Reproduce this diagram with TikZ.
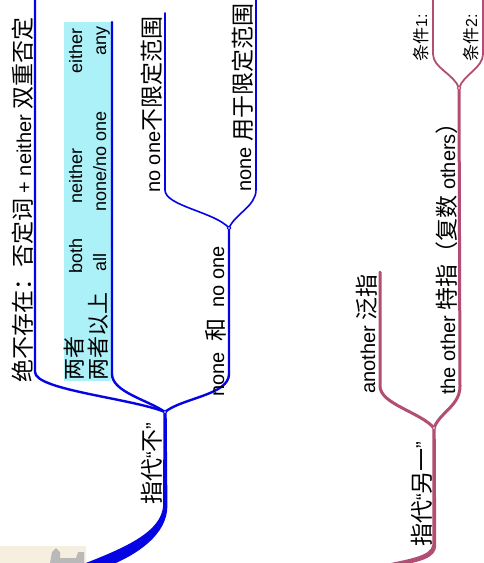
\documentclass[tikz,border=0pt]{standalone}
\usepackage{fontspec}
\setmainfont{Liberation Sans}
\newfontfamily\cjkf{Noto Sans CJK SC}
\newcommand\zhtxt[2][23]{{\cjkf\fontsize{#1}{#1}\selectfont #2}}
\definecolor{mmblue}{RGB}{5,5,228}
\definecolor{mmpink}{RGB}{178,78,115}
\definecolor{mmcyan}{RGB}{172,240,248}
\definecolor{mmbeige}{RGB}{246,238,222}
\begin{document}
\begin{tikzpicture}[x=1pt,y=-1pt,
  lbl/.style={rotate=90,anchor=base west,inner sep=0pt,font=\fontsize{20}{24}\selectfont},
  boxlbl/.style={lbl,font=\fontsize{18}{21}\selectfont},
  smalllbl/.style={lbl,font=\fontsize{16}{19}\selectfont},
  bluemain/.style={draw=mmblue,line width=2.4pt,line cap=round},
  bluesub/.style={draw=mmblue,line width=1.6pt,line cap=round},
  pinkmain/.style={draw=mmpink,line width=3pt,line cap=round},
  pinksub/.style={draw=mmpink,line width=1.8pt,line cap=round},
  junc/.style={circle,fill=white,inner sep=0pt,minimum size=3.5pt,draw,line width=0.8pt}]
\useasboundingbox (0,0) rectangle (484,563);
\clip (0,0) rectangle (484,563);
\fill[white] (0,0) rectangle (484,563);

% coordinates
\coordinate (J1) at (165,412);
\coordinate (J2) at (229,228);
\coordinate (J3) at (434,428);
\coordinate (J4) at (459,88);
\coordinate (Atop) at (35,-2);
\coordinate (Btop) at (112,22);
\coordinate (Ctop) at (165,13);
\coordinate (Dtop) at (256,-2);
\coordinate (Etop) at (380,272);
\coordinate (Ftop) at (433,-2);
\coordinate (Gtop) at (483,-2);

% cyan box
\fill[mmcyan] (64,22) rectangle (111,381);

% blue trunk
\fill[mmblue] (163.3,412) -- (163.2,505) .. controls (162,532) and (125,548) .. (78,566)
  -- (109,566) .. controls (136,555) and (168,535) .. (167.4,505) -- (166.7,412) -- cycle;

% blue branches
\draw[bluemain] (Atop) -- (35,372) .. controls (35,390) and (130,398) .. (J1);
\draw[bluemain] (Btop) -- (112,374) .. controls (112,392) and (148,400) .. (J1);
\draw[bluemain] (J2) -- (229,374) .. controls (229,395) and (182,398) .. (J1);
\draw[bluesub] (Ctop) -- (165,190) .. controls (165,206) and (215,212) .. (J2);
\draw[bluesub] (Dtop) -- (256,190) .. controls (256,206) and (235,214) .. (J2);
\node[junc,draw=mmblue] (j1) at (J1) {};
\node[junc,draw=mmblue] (j2) at (J2) {};

% pink trunk
\fill[mmpink] (432.3,428) -- (432.3,545) .. controls (431,556) and (410,559) .. (376,566)
  -- (396,566) .. controls (420,562) and (436.5,558) .. (436.2,545) -- (435.7,428) -- cycle;

% pink branches
\draw[pinkmain] (Etop) -- (380,386) .. controls (380,404) and (420,412) .. (J3);
\draw[pinkmain] (J4) -- (460,386) .. controls (460,406) and (440,412) .. (J3);
\draw[pinksub] (Ftop) -- (433,54) .. controls (433,68) and (454,74) .. (J4);
\draw[pinksub] (Gtop) -- (483,54) .. controls (483,68) and (464,74) .. (J4);
\node[junc,draw=mmpink] (j3) at (J3) {};
\node[junc,draw=mmpink] (j4) at (J4) {};

% icon at bottom left
\fill[mmbeige] (0,546) rectangle (86,563);
\fill[gray!55] (52,552) -- (56,548) -- (60,552) -- (60,558) -- (76,558) -- (78,552) -- (84,552) -- (84,563) -- (50,563) -- cycle;

% labels
\node[lbl] (t1) at (31,383) {\zhtxt{绝不存在：否定词} + neither \zhtxt{双重否定}};
\node[boxlbl] (b11) at (82,381) {\zhtxt[22]{两者}};
\node[boxlbl] (b12) at (82,274) {both};
\node[boxlbl] (b13) at (82,204) {neither};
\node[boxlbl] (b14) at (82,74) {either};
\node[boxlbl] (b21) at (106,381) {\zhtxt[22]{两者以上}};
\node[boxlbl] (b22) at (106,272) {all};
\node[boxlbl] (b23) at (106,212) {none/no one};
\node[boxlbl] (b24) at (106,56) {any};
\node[lbl] (t2) at (160,505) {\zhtxt{指代}“\zhtxt{不}”};
\node[lbl] (t3) at (224,397) {none\hspace{11pt}\zhtxt{和}\hspace{11pt}no one};
\node[lbl] (t4) at (160,193) {no one\zhtxt{不限定范围}};
\node[lbl] (t5) at (251,192) {none \zhtxt{用于限定范围}};
\node[lbl] (t6) at (430,547) {\zhtxt{指代}“\zhtxt{另一}”};
\node[lbl] (t7) at (375,394) {another \zhtxt{泛指}};
\node[lbl] (t8) at (455,395) {the other \zhtxt{特指（复数} others\zhtxt{）}};
\node[smalllbl] (t9) at (427,62) {\zhtxt[17]{条件}1:};
\node[smalllbl] (t10) at (477,62) {\zhtxt[17]{条件}2:};
\end{tikzpicture}
\end{document}
